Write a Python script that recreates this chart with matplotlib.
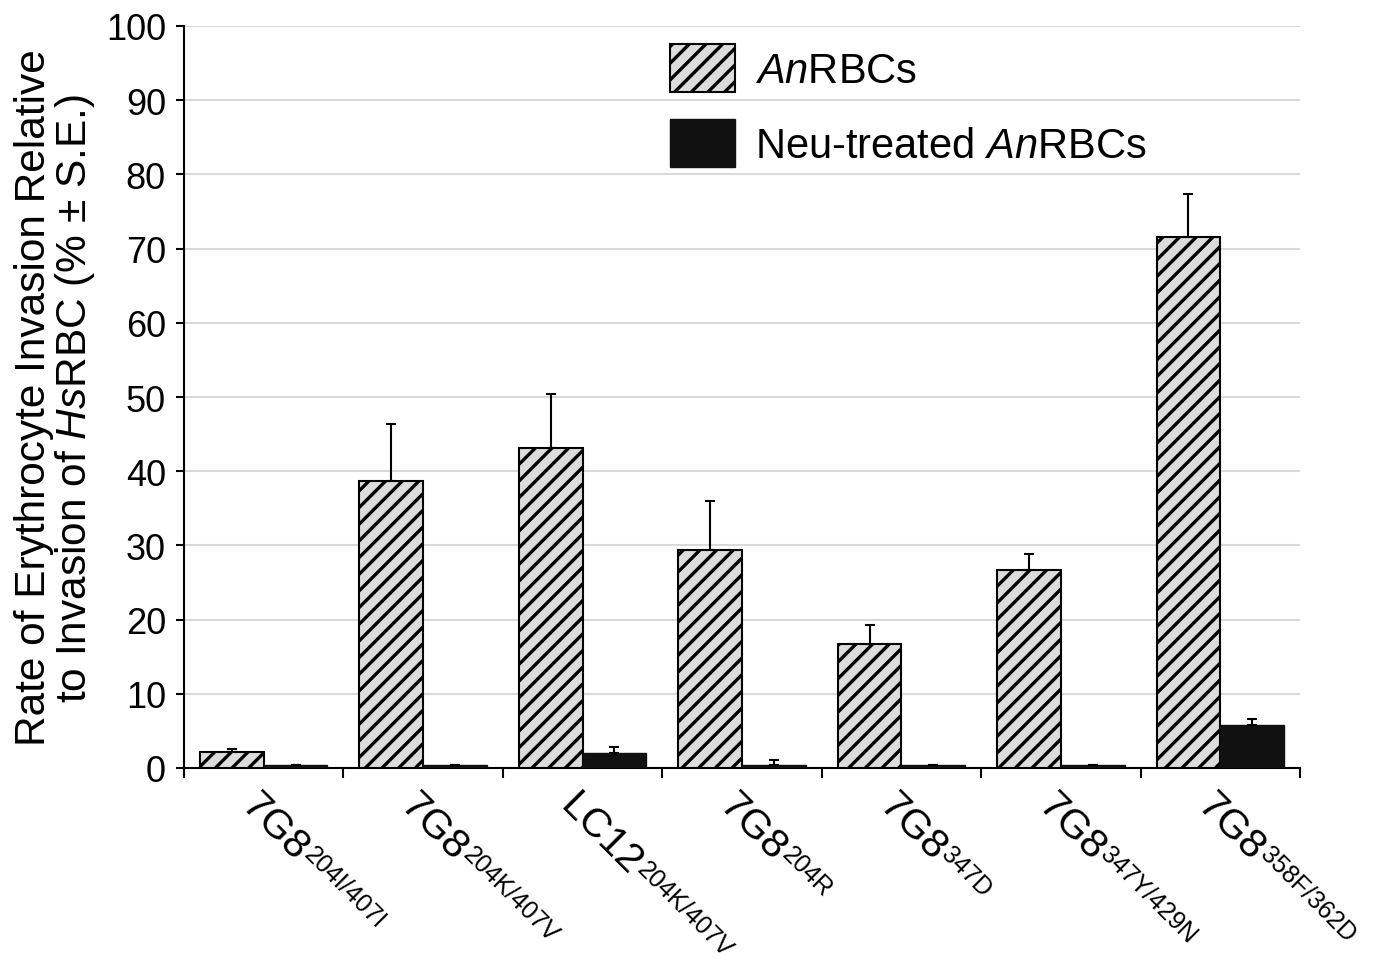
import matplotlib
matplotlib.use("Agg")
import matplotlib.pyplot as plt
import numpy as np
from matplotlib.transforms import blended_transform_factory, offset_copy

plt.rcParams['font.family'] = ['Liberation Sans', 'DejaVu Sans']
plt.rcParams['mathtext.fontset'] = 'custom'
plt.rcParams['mathtext.rm'] = 'Liberation Sans'
plt.rcParams['mathtext.it'] = 'Liberation Sans:italic'
plt.rcParams['mathtext.bf'] = 'Liberation Sans:bold'
plt.rcParams['hatch.linewidth'] = 2.4

strains = ['7G8', '7G8', 'LC12', '7G8', '7G8', '7G8', '7G8']
mutations = ['204I/407I', '204K/407V', '204K/407V', '204R', '347D', '347Y/429N', '358F/362D']
an_rbc = [2.2, 38.7, 43.1, 29.4, 16.7, 26.7, 71.6]
an_rbc_se = [0.3, 7.7, 7.3, 6.6, 2.6, 2.1, 5.8]
neu_rbc = [0.4, 0.4, 2.0, 0.4, 0.4, 0.4, 5.8]
neu_rbc_se = [0.0, 0.0, 0.8, 0.7, 0.0, 0.0, 0.8]
series_labels = [r'$\mathit{An}$RBCs', r'Neu-treated $\mathit{An}$RBCs']

fig = plt.figure(figsize=(13.73, 9.62), dpi=100)
ax = fig.add_axes([184/1373, 1-769/962, (1300-184)/1373, (769-27)/962])

x = np.arange(len(strains))
w = 0.4
zeros = np.zeros(len(x))
ax.bar(x - w/2, an_rbc, w, color='#dcdcdc', edgecolor='black', hatch='//',
       linewidth=1.5, label=series_labels[0], zorder=3,
       yerr=[zeros, an_rbc_se], capsize=3.5,
       error_kw=dict(elinewidth=1.5, capthick=1.5, ecolor='black', zorder=4))
ax.bar(x + w/2, neu_rbc, w, color='#111111', edgecolor='#111111',
       linewidth=1.0, label=series_labels[1], zorder=3,
       yerr=[zeros, neu_rbc_se], capsize=3.5,
       error_kw=dict(elinewidth=1.5, capthick=1.5, ecolor='black', zorder=4))

ax.set_xlim(-0.5, len(x) - 0.5)
ax.set_ylim(0, 100)
ax.set_yticks(np.arange(0, 101, 10))
ax.yaxis.grid(True, color='#d9d9d9', linewidth=1.5, zorder=0)
ax.set_axisbelow(True)
for s in ['top', 'right']:
    ax.spines[s].set_visible(False)
ax.spines['left'].set_linewidth(1.5)
ax.spines['bottom'].set_linewidth(1.5)
ax.tick_params(axis='y', labelsize=26, length=6, width=1.5, pad=7, direction='out')
ax.set_xticks(np.arange(-0.5, len(x), 1.0))
ax.set_xticklabels([])
ax.tick_params(axis='x', length=7, width=1.5, direction='out')

# category labels: main name plus smaller raised mutation text, rotated -45 deg
renderer = fig.canvas.get_renderer()
main_fs, sup_fs = 29.5, 18
ang = np.deg2rad(45)
dvec = np.array([np.cos(ang), -np.sin(ang)])   # text direction (display coords, y up)
uvec = np.array([np.sin(ang), np.cos(ang)])    # up direction of rotated text
base = blended_transform_factory(ax.transData, ax.transAxes)
for xi, s, m in zip(x, strains, mutations):
    tmp = fig.text(0, 0, s, fontsize=main_fs)
    wpx = tmp.get_window_extent(renderer).width
    tmp.remove()
    a0 = np.array([-24.0, -39.0])
    t1 = offset_copy(base, fig=fig, x=a0[0], y=a0[1], units='dots')
    ax.text(xi, 0, s, transform=t1, fontsize=main_fs, rotation=-45,
            rotation_mode='anchor', ha='left', va='baseline')
    p = a0 + (wpx + 1) * dvec + 10 * uvec
    t2 = offset_copy(base, fig=fig, x=p[0], y=p[1], units='dots')
    ax.text(xi, 0, m, transform=t2, fontsize=sup_fs, rotation=-45,
            rotation_mode='anchor', ha='left', va='baseline')

ax.set_ylabel('Rate of Erythrocyte Invasion Relative\nto Invasion of $\\mathit{Hs}$RBC (% ± S.E.)',
              fontsize=30.5, linespacing=0.95, labelpad=6.5)

ax.legend(loc='upper left', bbox_to_anchor=(670/1373, 1-45/962), bbox_transform=fig.transFigure,
          frameon=False, fontsize=30, handlelength=1.55, handleheight=1.4,
          handletextpad=0.5, labelspacing=0.64, borderpad=0, borderaxespad=0)

fig.savefig('out.png', dpi=100)
